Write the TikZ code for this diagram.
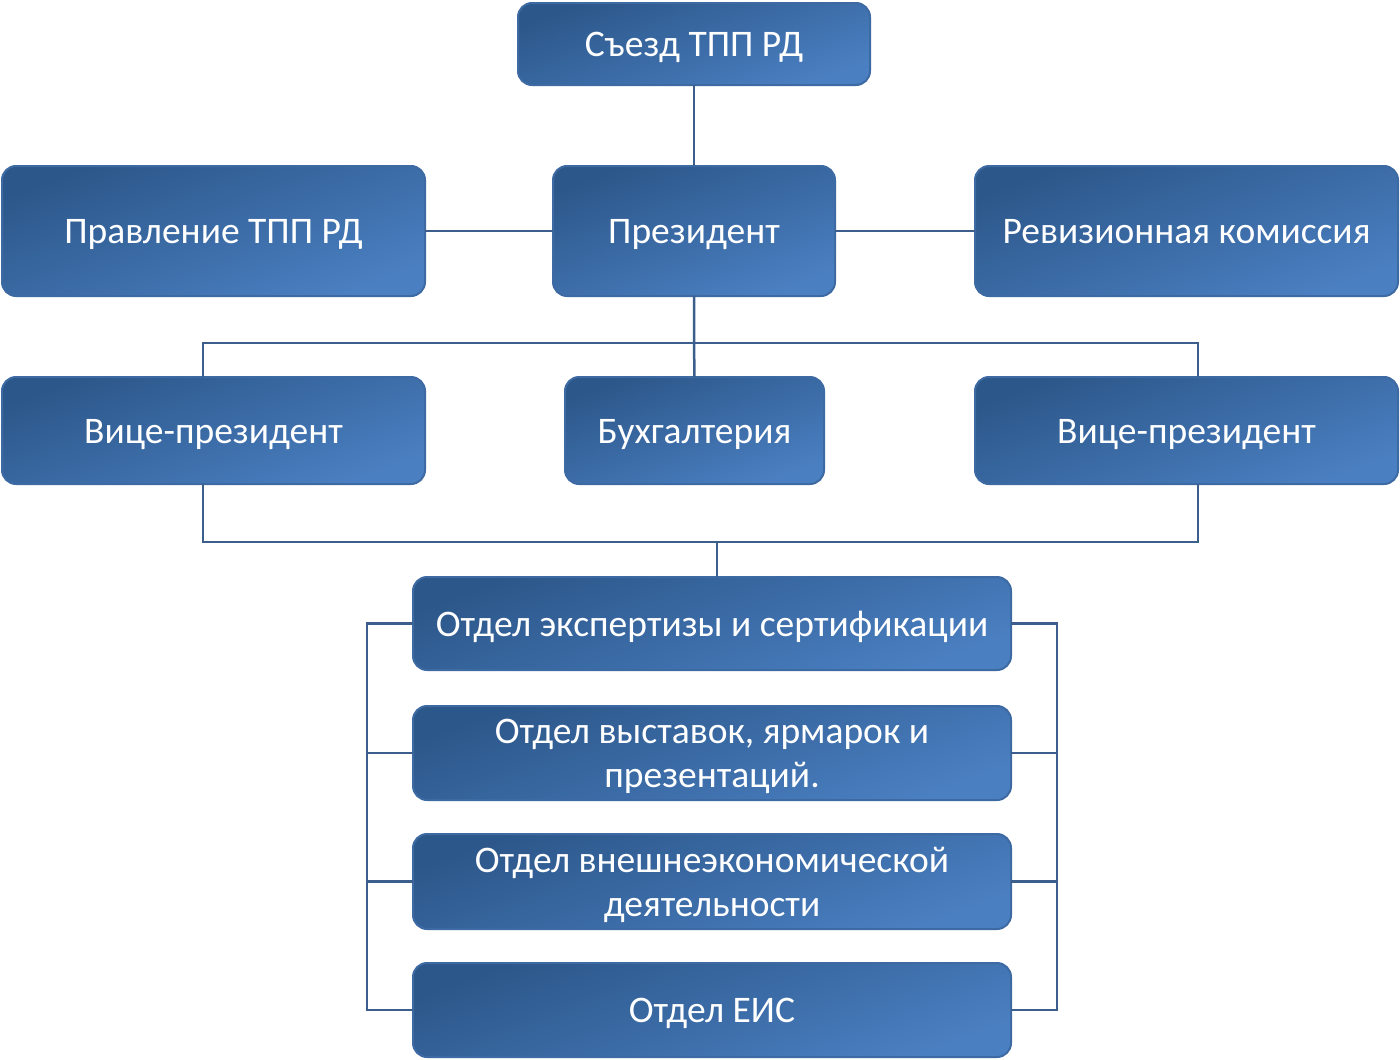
\documentclass[tikz,border=0pt]{standalone}
\usepackage{fontspec}
\setmainfont{Carlito}
\definecolor{boxdark}{HTML}{2C578A}
\definecolor{boxlight}{HTML}{4A7FC1}
\definecolor{boxedge}{HTML}{3D6AA3}
\definecolor{linec}{HTML}{3B5E8C}
\newcommand{\topstrut}{\rule{0pt}{0.87em}}
\tikzset{
  orgbox/.style={draw=boxedge, line width=2pt, rounded corners=14pt,
    shading=axis, top color=boxdark, bottom color=boxlight, shading angle=20,
    text=white, font=\fontsize{37.5}{44}\selectfont, align=center,
    inner sep=0pt, outer sep=0pt,
    execute at begin node={\topstrut},
    execute at end node={\rule[-0.2em]{0pt}{0.2em}}},
  link/.style={draw=linec, line width=2.5pt}
}
\begin{document}
\begin{tikzpicture}[x=1pt,y=-1pt]
\useasboundingbox (0,0) rectangle (1400,1060);
\node[orgbox, minimum width=352pt, minimum height=82pt] (sezd) at (694,44) {Съезд ТПП РД};
\node[orgbox, minimum width=423pt, minimum height=130pt] (prav) at (213.5,231) {Правление ТПП РД};
\node[orgbox, minimum width=282pt, minimum height=130pt] (pres) at (694,231) {Президент};
\node[orgbox, minimum width=423pt, minimum height=130pt] (rev) at (1186.5,231) {Ревизионная комиссия};
\node[orgbox, minimum width=423pt, minimum height=107pt] (vpl) at (213.5,430.5) {Вице-президент};
\node[orgbox, minimum width=259pt, minimum height=107pt] (buh) at (694.5,430.5) {Бухгалтерия};
\node[orgbox, minimum width=423pt, minimum height=107pt] (vpr) at (1186.5,430.5) {Вице-президент};
\node[orgbox, minimum width=598pt, minimum height=93pt] (d1) at (712,623.5) {Отдел экспертизы и сертификации};
\node[orgbox, minimum width=598pt, minimum height=94pt] (d2) at (712,753) {\topstrut Отдел выставок, ярмарок и\\презентаций.};
\node[orgbox, minimum width=598pt, minimum height=95pt] (d3) at (712,881.5) {\topstrut Отдел внешнеэкономической\\деятельности};
\node[orgbox, minimum width=598pt, minimum height=94pt] (d4) at (712,1010) {Отдел ЕИС};

\coordinate (j1) at (694,343);
\coordinate (j2) at (717,542);
\draw[link] (sezd.south) -- (pres.north);
\draw[link] (prav.east) -- (pres.west);
\draw[link] (pres.east) -- (rev.west);
\draw[link] (pres.south) -- (j1) -- (buh.north);
\draw[link] (vpl.north -| 203,0) |- (j1) -| (vpr.north -| 1198,0);
\draw[link] (vpl.south -| 203,0) |- (j2) -| (vpr.south -| 1198,0);
\draw[link] (j2) -- (d1.north -| j2);
\draw[link] (d1.west) -- (367,623.5) |- (d4.west);
\draw[link] (d2.west) -- (367,753);
\draw[link] (d3.west) -- (367,881.5);
\draw[link] (d1.east) -- (1057,623.5) |- (d4.east);
\draw[link] (d2.east) -- (1057,753);
\draw[link] (d3.east) -- (1057,881.5);
\end{tikzpicture}
\end{document}
